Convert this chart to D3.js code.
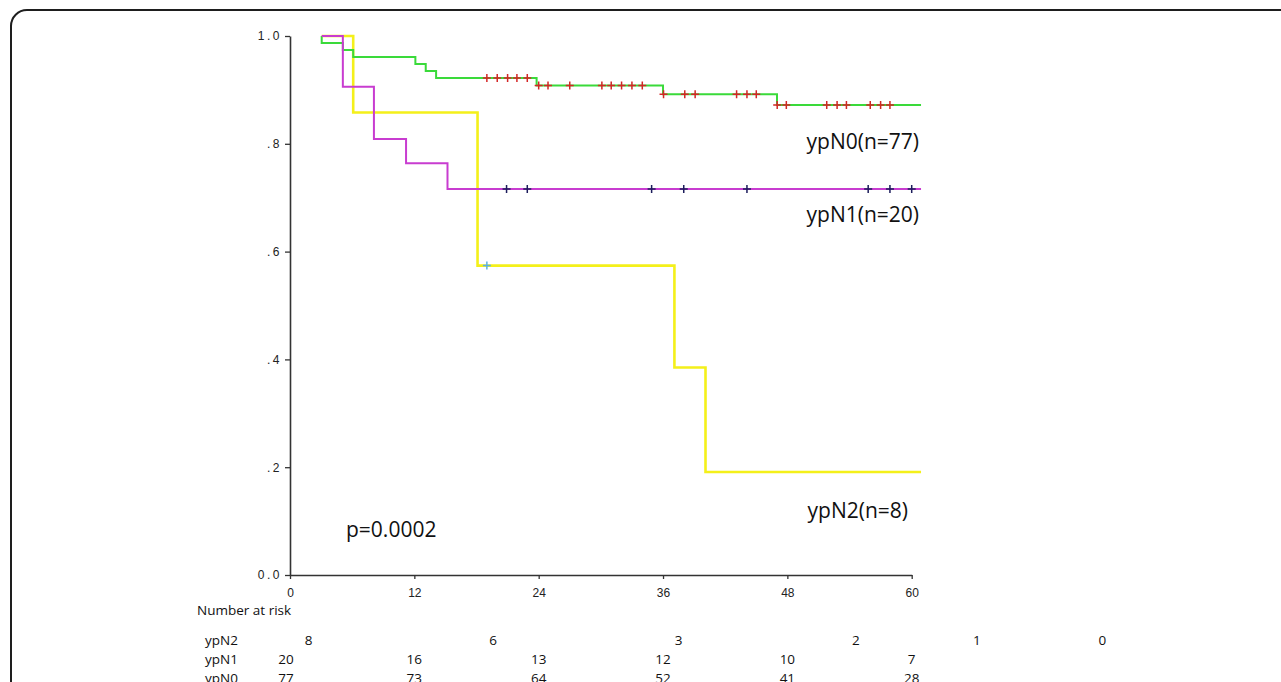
<!DOCTYPE html>
<html>
<head>
<meta charset="utf-8">
<script src="https://cdn.jsdelivr.net/npm/d3@7"></script>
<style>
  body { margin: 0; background: #fff; }
  svg { display: block; }
</style>
</head>
<body>
<div class="chart"></div>
<script>
var svgWidth = 1281;
var svgHeight = 682;

// survival steps (months, cumulative survival)
var startTime = 3.06;
var endTime = 60.9;

var n0Times = [3.06, 5.1, 6.1, 12.1, 13.1, 14.1, 23.8, 36.0, 47.0];
var n0Surv = [0.987, 0.974, 0.961, 0.948, 0.935, 0.922, 0.908, 0.892, 0.872];
var n0Censor = [19, 20, 21, 21.9, 22.9, 24, 24.9, 27, 30.1, 31, 32, 33, 34, 36.05, 38.1, 39.1,
                43.1, 44.1, 45, 47.02, 47.9, 51.8, 52.8, 53.7, 56, 57, 57.9];

var n1Times = [5.1, 8.1, 11.2, 15.2];
var n1Surv = [0.906, 0.809, 0.764, 0.716];
var n1Censor = [20.9, 22.9, 34.9, 38.0, 44.1, 55.8, 57.9, 60.0];

var n2Times = [6.1, 18.1, 37.1, 40.1];
var n2Surv = [0.858, 0.574, 0.385, 0.191];
var n2Censor = [19.0];

// axes
var xTicks = [0, 12, 24, 36, 48, 60];
var yTicks = [0, 0.2, 0.4, 0.6, 0.8, 1.0];
var yTickLabels = ["0.0", ".2", ".4", ".6", ".8", "1.0"];

// number at risk table
var riskGroups = ["ypN2", "ypN1", "ypN0"];
var riskN2 = [8, 6, 3, 2, 1, 0];
var riskN1 = [20, 16, 13, 12, 10, 7];
var riskN0 = [77, 73, 64, 52, 41, 28];
// ypN2 row sits in its own columns (in months on the x scale)
var riskN2Cols = [1.8, 19.6, 37.5, 54.6, 66.3, 78.4];

var svg = d3.select(".chart")
    .append("svg")
    .attr("width", svgWidth)
    .attr("height", svgHeight);

// outer frame, only the top-left corner shows
svg.append("rect")
    .attr("x", 11)
    .attr("y", 10)
    .attr("width", 1400)
    .attr("height", 800)
    .attr("rx", 16)
    .attr("fill", "none")
    .attr("stroke", "#1e1e1e")
    .attr("stroke-width", 2);

var x = d3.scaleLinear().domain([0, 60]).range([290, 911.7]);
var y = d3.scaleLinear().domain([0, 1]).range([575, 36]);

// y axis
var leftAxis = d3.axisLeft(y)
    .tickValues(yTicks)
    .tickFormat((d, i) => yTickLabels[i])
    .tickSize(5)
    .tickSizeOuter(0)
    .tickPadding(3);

var yAxis = svg.append("g")
    .attr("transform", `translate(${x(0)}, 0)`)
    .call(leftAxis);
yAxis.select(".domain").attr("stroke", "#333").attr("stroke-width", 1.6);
yAxis.selectAll(".tick line").attr("stroke", "#333").attr("stroke-width", 1.3);
yAxis.selectAll(".tick text")
    .attr("font-family", "Liberation Sans, sans-serif")
    .attr("font-size", "12px")
    .attr("letter-spacing", "2.5px")
    .attr("fill", "#222");

// x axis
var bottomAxis = d3.axisBottom(x)
    .tickValues(xTicks)
    .tickFormat(d3.format("d"))
    .tickSize(4)
    .tickSizeOuter(0)
    .tickPadding(9);

var xAxis = svg.append("g")
    .attr("transform", `translate(0, ${y(0)})`)
    .call(bottomAxis);
xAxis.select(".domain").attr("stroke", "#333").attr("stroke-width", 1.6);
xAxis.selectAll(".tick line").attr("stroke", "#333").attr("stroke-width", 1.3);
xAxis.selectAll(".tick text")
    .attr("font-family", "Liberation Sans, sans-serif")
    .attr("font-size", "12px")
    .attr("fill", "#222");

// step curves
function steps(times, surv) {
    var pts = [[startTime, 1]];
    times.forEach((t, i) => pts.push([t, surv[i]]));
    pts.push([endTime, surv[surv.length - 1]]);
    return pts;
}

function survAt(times, surv, t) {
    var i = d3.bisectRight(times, t);
    return i === 0 ? 1 : surv[i - 1];
}

var line = d3.line()
    .x(d => x(d[0]))
    .y(d => y(d[1]))
    .curve(d3.curveStepAfter);

var curves = [
    { times: n2Times, surv: n2Surv, censor: n2Censor, color: "#f4f01a", width: 2.6, mark: "#5ab0e6" },
    { times: n0Times, surv: n0Surv, censor: n0Censor, color: "#3ada3a", width: 2, mark: "#d42626" },
    { times: n1Times, surv: n1Surv, censor: n1Censor, color: "#c83cd0", width: 2, mark: "#1c1c5c" }
];

curves.forEach(function (c) {
    svg.append("path")
        .datum(steps(c.times, c.surv))
        .attr("d", line)
        .attr("fill", "none")
        .attr("stroke", c.color)
        .attr("stroke-width", c.width);
});

curves.forEach(function (c) {
    svg.append("g")
        .selectAll("path")
        .data(c.censor)
        .enter()
        .append("path")
        .attr("d", function (t) {
            var cx = x(t), cy = y(survAt(c.times, c.surv, t));
            return `M${cx - 4},${cy}h8M${cx},${cy - 4}v8`;
        })
        .attr("stroke", c.mark)
        .attr("stroke-width", 1.5);
});

// group labels and p value
var labelFont = "Open Sans, sans-serif";
var labels = [
    { text: "ypN0(n=77)", x: 919, y: 149 },
    { text: "ypN1(n=20)", x: 919, y: 222 },
    { text: "ypN2(n=8)", x: 908, y: 518 }
];
svg.selectAll(".grp-label")
    .data(labels)
    .enter()
    .append("text")
    .attr("class", "grp-label")
    .attr("x", d => d.x)
    .attr("y", d => d.y)
    .attr("text-anchor", "end")
    .attr("font-family", labelFont)
    .attr("font-size", "21px")
    .attr("fill", "#111")
    .text(d => d.text);

svg.append("text")
    .attr("x", 346)
    .attr("y", 537)
    .attr("font-family", labelFont)
    .attr("font-size", "21px")
    .attr("fill", "#111")
    .text("p=0.0002");

// number at risk
var tableFont = "Open Sans, sans-serif";
svg.append("text")
    .attr("x", 197)
    .attr("y", 615)
    .attr("font-family", tableFont)
    .attr("font-size", "13.5px")
    .attr("fill", "#111")
    .text("Number at risk");

var rowY = [645, 664, 683];
svg.selectAll(".row-name")
    .data(riskGroups)
    .enter()
    .append("text")
    .attr("class", "row-name")
    .attr("x", 205)
    .attr("y", (d, i) => rowY[i])
    .attr("font-family", tableFont)
    .attr("font-size", "13.5px")
    .attr("fill", "#111")
    .text(d => d);

var rows = [
    { vals: riskN2, cols: riskN2Cols },
    { vals: riskN1, cols: xTicks },
    { vals: riskN0, cols: xTicks }
];
rows.forEach(function (r, ri) {
    svg.append("g")
        .selectAll("text")
        .data(r.vals)
        .enter()
        .append("text")
        .attr("x", (d, i) => x(r.cols[i]) - (ri > 0 && i === 0 ? 4 : 0))
        .attr("y", rowY[ri])
        .attr("text-anchor", "middle")
        .attr("font-family", tableFont)
        .attr("font-size", "13.5px")
        .attr("fill", "#111")
        .text(d => d);
});
</script>
</body>
</html>
